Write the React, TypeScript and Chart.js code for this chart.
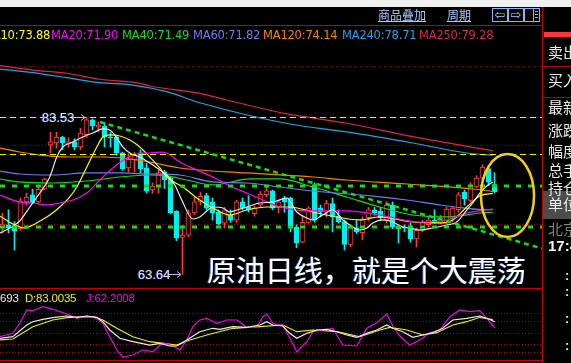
import React, { useEffect, useRef } from 'react';
import { Chart, registerables } from 'chart.js';

Chart.register(...registerables);

// ---------------- data ----------------
const OPEN = [69.49, 69.9, 69.6, 69.4, 72.8, 73.7, 72.8, 74.4, 80.0, 80.25, 81.0, 80.1, 80.4, 79.75, 81.3, 83.2, 82.28, 82.4, 81.0, 81.0, 79.0, 77.1, 78.1, 79.0, 77.1, 74.3, 74.8, 76.6, 75.8, 71.6, 68.3, 68.6, 71.4, 72.8, 73.6, 72.8, 71.5, 70.1, 71.1, 70.5, 72.8, 72.1, 71.3, 72.4, 73.7, 74.2, 72.2, 73.3, 73.3, 69.6, 67.7, 70.2, 74.94, 72.0, 71.5, 72.6, 71.0, 70.3, 67.4, 69.5, 68.9, 70.8, 71.8, 71.6, 70.5, 72.4, 69.6, 69.6, 69.6, 68.1, 69.2, 69.9, 70.5, 70.1, 70.1, 70.9, 71.8, 74.0, 73.0, 74.7, 75.8, 77.0, 75.0];
const HIGH = [71.39, 71.8, 70.3, 73.3, 73.9, 74.4, 74.7, 75.8, 81.6, 81.6, 81.1, 80.9, 80.8, 82.1, 83.53, 83.3, 82.9, 82.8, 81.6, 81.1, 79.1, 78.9, 79.1, 79.4, 77.7, 75.2, 76.8, 76.8, 76.0, 71.7, 69.8, 71.8, 73.4, 74.0, 73.9, 73.3, 71.8, 72.1, 71.8, 73.0, 73.3, 73.6, 72.3, 74.1, 74.7, 74.3, 73.0, 73.5, 73.4, 69.9, 71.0, 72.2, 75.2, 72.4, 73.0, 73.3, 71.8, 70.5, 69.9, 70.5, 70.9, 72.1, 72.1, 72.1, 72.8, 72.8, 69.8, 69.9, 70.1, 69.5, 70.5, 70.9, 71.8, 71.1, 72.1, 72.1, 74.0, 74.3, 75.2, 76.1, 77.5, 77.2, 76.5];
const LOW = [68.86, 68.9, 66.7, 69.2, 72.4, 72.6, 72.6, 74.3, 79.0, 79.6, 79.4, 79.7, 79.4, 79.4, 81.0, 81.9, 81.65, 79.75, 79.75, 78.7, 76.8, 76.6, 76.6, 76.5, 73.9, 73.9, 73.9, 74.5, 71.3, 67.9, 63.64, 68.4, 71.2, 72.4, 71.8, 70.5, 69.9, 69.5, 70.2, 70.2, 71.8, 71.5, 71.0, 72.2, 73.4, 71.8, 71.4, 71.5, 69.0, 67.0, 67.6, 70.1, 70.2, 70.9, 70.9, 69.0, 70.1, 66.7, 67.1, 68.8, 68.0, 70.4, 71.1, 70.5, 70.1, 69.4, 67.6, 69.0, 67.7, 67.1, 69.0, 69.6, 70.1, 70.0, 70.0, 70.3, 71.5, 72.4, 72.8, 74.6, 75.6, 74.9, 73.9];
const CLOSE = [70.0, 69.5, 69.1, 72.9, 73.4, 72.7, 74.4, 75.7, 80.4, 81.0, 80.25, 80.4, 79.8, 81.5, 83.2, 82.4, 82.53, 81.0, 80.9, 79.0, 77.0, 78.2, 78.7, 77.0, 74.2, 74.8, 76.5, 75.6, 71.4, 68.2, 68.6, 71.4, 72.8, 73.5, 72.0, 71.4, 70.0, 71.8, 70.5, 72.8, 72.0, 71.8, 72.0, 73.8, 74.2, 72.0, 72.8, 72.8, 69.6, 67.6, 70.2, 72.0, 70.5, 71.5, 72.6, 70.9, 70.3, 67.4, 69.5, 69.0, 70.6, 71.8, 71.4, 70.8, 72.4, 69.6, 69.4, 69.5, 68.1, 69.2, 70.2, 70.5, 70.15, 70.8, 71.9, 72.0, 73.7, 73.2, 74.8, 75.8, 77.2, 75.3, 74.1];

// moving-average lines: [bar position, price]
const MA5: [number, number][] = [[-0.45, 68.86], [1.22, 69.49], [2.88, 70.38], [4.55, 72.15], [6.22, 73.92], [7.88, 75.95], [9.05, 78.48], [10.05, 79.75], [11.72, 80.38], [13.38, 81.01], [15.05, 81.52], [16.72, 82.03], [17.88, 81.9], [19.05, 80.89], [20.05, 79.75], [21.22, 78.99], [22.88, 78.48], [24.55, 77.72], [26.22, 76.84], [27.38, 76.2], [28.72, 74.94], [29.88, 73.04], [31.72, 70.63], [32.88, 70.89], [34.05, 71.65], [35.05, 72.15], [36.72, 72.03], [37.88, 71.52], [39.05, 71.77], [40.72, 72.15], [42.88, 72.66], [45.05, 72.78], [47.38, 73.29], [49.05, 71.52], [50.72, 70.76], [51.72, 70.51], [53.38, 71.14], [55.05, 71.77], [56.72, 70.51], [57.88, 69.87], [59.55, 69.24], [60.72, 69.49], [61.72, 70.13], [63.38, 70.51], [65.05, 70.25], [66.72, 69.62], [67.88, 69.49], [69.55, 69.24], [71.72, 69.49], [74.05, 69.87], [75.72, 70.25], [77.38, 71.77], [78.38, 72.66], [79.55, 73.92], [80.72, 74.81], [81.72, 75.32]];
const MA10: [number, number][] = [[-0.45, 71.01], [1.72, 70.0], [3.72, 69.49], [5.05, 69.87], [6.22, 70.38], [7.88, 71.14], [9.55, 72.15], [11.22, 73.42], [12.38, 74.68], [14.05, 77.21], [15.72, 79.75], [16.72, 81.01], [17.88, 81.27], [19.55, 81.14], [21.22, 80.63], [22.88, 79.75], [24.55, 78.48], [26.22, 77.09], [27.38, 75.95], [30.05, 74.68], [32.88, 73.04], [35.05, 72.03], [37.88, 71.14], [40.72, 71.77], [44.05, 72.15], [47.88, 72.15], [51.72, 71.52], [55.72, 70.89], [59.55, 70.51], [62.88, 70.89], [68.38, 70.25], [72.88, 70.13], [75.05, 70.51], [77.38, 72.15], [79.55, 73.54], [81.72, 73.88]];
const MA20: [number, number][] = [[-0.45, 73.67], [2.88, 72.78], [5.05, 72.66], [7.38, 72.41], [9.55, 72.66], [11.72, 73.04], [14.05, 73.92], [16.22, 75.57], [18.38, 77.09], [20.72, 78.35], [22.38, 78.86], [24.55, 78.99], [26.22, 79.11], [27.38, 78.99], [29.55, 77.85], [32.38, 76.84], [35.05, 75.95], [37.88, 74.81], [40.72, 73.92], [43.38, 73.04], [46.22, 72.15], [51.72, 71.65], [57.38, 71.65], [62.88, 71.14], [69.55, 70.25], [74.05, 70.51], [77.38, 71.39], [81.72, 71.9]];
const MA40: [number, number][] = [[-0.45, 75.7], [2.88, 75.32], [8.38, 75.19], [14.05, 75.44], [19.55, 75.95], [24.55, 76.2], [27.38, 76.08], [30.72, 75.57], [35.05, 74.94], [41.22, 75.7], [46.22, 75.7], [51.72, 74.68], [57.38, 73.42], [62.88, 72.15], [68.38, 71.14], [74.05, 70.89], [79.55, 71.39], [81.72, 71.49]];
const MA60: [number, number][] = [[-0.45, 76.71], [2.88, 76.33], [8.38, 76.2], [14.05, 76.46], [19.55, 76.46], [24.55, 76.33], [29.55, 76.2], [35.05, 75.32], [40.72, 75.19], [46.22, 74.68], [51.72, 74.18], [57.38, 73.8], [61.72, 73.54], [67.38, 73.04], [72.88, 72.41], [76.72, 72.03], [79.55, 71.84], [81.72, 71.82]];
const MA120: [number, number][] = [[-0.45, 79.62], [2.88, 79.11], [6.22, 78.73], [11.22, 78.48], [16.72, 78.48], [21.22, 78.23], [24.55, 77.85], [29.55, 77.09], [40.72, 76.46], [51.72, 75.95], [57.38, 75.57], [67.38, 75.06], [78.38, 74.43], [81.72, 74.14]];
const MA240: [number, number][] = [[-0.45, 89.62], [5.05, 89.15], [10.72, 88.52], [16.22, 87.89], [21.72, 87.59], [27.38, 86.75], [32.88, 85.35], [47.88, 82.66], [57.38, 81.65], [68.38, 80.25], [77.38, 78.99], [81.72, 78.71]];
const MA250: [number, number][] = [[-0.45, 90.04], [5.05, 89.49], [10.72, 89.08], [16.22, 88.32], [22.88, 87.81], [24.55, 87.47], [32.88, 86.54], [37.38, 85.7], [47.05, 84.0], [57.38, 82.75], [68.38, 81.05], [81.72, 79.28]];

// KDJ lines: [bar position, value]
const K_LINE: [number, number][] = [[-0.45, 35.1], [1.72, 39.2], [4.05, 69.2], [5.05, 77.7], [6.72, 83.8], [8.38, 87.9], [10.72, 92.3], [12.38, 89.0], [14.05, 92.3], [15.72, 89.0], [16.72, 77.7], [17.88, 56.4], [19.55, 35.1], [21.72, 26.4], [24.55, 17.9], [26.22, 22.3], [27.88, 15.4], [29.05, 15.4], [30.72, 30.8], [32.88, 52.0], [35.05, 60.8], [36.22, 58.2], [38.38, 64.9], [40.72, 63.3], [42.88, 69.2], [44.05, 77.7], [45.05, 69.2], [46.72, 66.7], [47.88, 47.9], [49.05, 35.1], [50.72, 47.9], [52.38, 56.4], [54.05, 58.2], [55.72, 52.0], [57.38, 43.6], [59.05, 37.7], [60.72, 47.9], [62.38, 56.4], [64.05, 69.2], [65.05, 60.8], [66.72, 52.0], [68.38, 37.7], [70.05, 43.6], [71.72, 49.5], [73.38, 60.8], [75.05, 82.0], [77.38, 86.4], [79.55, 92.3], [80.72, 86.4], [82.05, 77.7]];
const D_LINE: [number, number][] = [[-0.45, 30.8], [1.72, 33.3], [5.05, 64.9], [8.38, 82.0], [10.72, 87.9], [15.05, 90.5], [16.72, 82.0], [19.05, 60.8], [21.72, 39.2], [24.55, 26.4], [29.05, 17.9], [31.22, 30.8], [34.05, 43.6], [38.38, 60.8], [42.88, 64.9], [46.72, 69.2], [49.05, 52.0], [51.72, 56.4], [55.72, 52.0], [59.55, 39.2], [62.88, 56.4], [64.55, 63.3], [67.38, 56.4], [70.05, 43.6], [72.38, 49.5], [75.05, 69.2], [77.38, 77.7], [79.55, 89.0], [81.72, 83.0]];
const J_LINE: [number, number][] = [[-0.45, 39.2], [1.72, 47.9], [2.88, 73.6], [4.05, 107.7], [5.05, 105.9], [6.72, 116.2], [8.38, 109.5], [10.72, 97.4], [12.38, 86.4], [14.05, 92.3], [15.72, 86.4], [16.72, 73.6], [17.88, 39.2], [19.05, 5.1], [20.05, -13.6], [21.72, -7.7], [23.38, 5.1], [25.05, 0.8], [26.72, 23.8], [28.38, 15.4], [29.55, 5.1], [30.72, 30.8], [31.72, 64.9], [32.88, 82.0], [34.05, 86.4], [35.72, 73.6], [37.38, 82.0], [39.05, 82.0], [40.72, 63.3], [42.38, 63.3], [43.38, 90.5], [44.05, 97.4], [45.05, 73.6], [46.72, 68.0], [47.88, 35.9], [49.05, 0.8], [50.72, 26.4], [51.72, 52.0], [53.38, 56.4], [55.05, 60.8], [56.72, 17.9], [59.05, 15.4], [60.72, 60.8], [62.38, 75.1], [64.05, 97.4], [65.05, 66.7], [66.22, 41.0], [67.88, 17.9], [69.55, 30.8], [71.22, 49.5], [72.88, 56.4], [74.55, 90.5], [76.22, 107.7], [77.88, 103.3], [79.55, 105.9], [80.72, 86.4], [82.05, 62.2]];

const MA_NAMES = ['MA10', 'MA20', 'MA40', 'MA60', 'MA120', 'MA240', 'MA250'];
const MA_VALUES = [73.88, 71.9, 71.49, 71.82, 74.14, 78.71, 79.28];
const KDJ_TEXTS = ['693', 'D:83.0035', 'J:62.2008'];

const PRICE_GRID = [90, 80, 70];
const KDJ_GRID = [100, 80, 50, 20, 0];
const H_YELLOW = [83.53, 78.82];
const H_GREEN = [74.81, 69.58];
const TREND: [number, number][] = [[16.25, 82.91], [89.92, 66.91]];
const ELLIPSE = { cx: 84.17, cy: 73.6, rx: 4.42, ry: 5.25 };
const HIGH_MARK = { index: 14, value: 83.53 };
const LOW_MARK = { index: 30, value: 63.64 };
const NOTE = '原油日线，就是个大震荡';
const PANEL_LABELS = ['卖出', '买入', '最新', '涨跌', '幅度', '总手', '持仓', '单位', '北京'];
const PANEL_TIME = '17:4';

// ---------------- styles / layout ----------------
const RED = '#ff3c3c';
const CYAN = '#00f0f0';
const MA_COLORS = ['#ffff00', '#ff00ff', '#10e010', '#7878f8', '#ff8000', '#20a4e4', '#e0244c'];
const MA5_COLOR = '#ececec';
const LEGEND_LEFT = [-17, 51, 122, 193, 263, 342, 419];
const KDJ_COLORS = ['#ececec', '#f0f000', '#f000f0'];
const KDJ_LEFT = [0, 25, 86];
const PANEL_TOPS = [42, 70, 97, 120, 141, 160, 178, 194, 219];

const X_MIN = -2.5 / 6;
const X_MAX = X_MIN + 542 / 6;
const P_MAX = 80 + 119 / 7.9;
const P_MIN = P_MAX - 334 / 7.9;
const K_MAX = 100 + 287 / 0.39;
const K_MIN = K_MAX - 334 / 0.39;

const decorPlugin = {
  id: 'decor',
  beforeDatasetsDraw(chart: any) {
    const { ctx, scales, chartArea } = chart;
    const ys = scales.y, yk = scales.yk;
    ctx.save();
    ctx.lineWidth = 1;
    ctx.setLineDash([1, 2]);
    ctx.strokeStyle = '#8c0000';
    PRICE_GRID.forEach((v) => {
      const py = Math.round(ys.getPixelForValue(v)) + 0.5;
      ctx.beginPath(); ctx.moveTo(chartArea.left, py); ctx.lineTo(chartArea.right, py); ctx.stroke();
    });
    ctx.strokeStyle = '#b00000';
    KDJ_GRID.forEach((v) => {
      const py = Math.round(yk.getPixelForValue(v)) + 0.5;
      ctx.beginPath(); ctx.moveTo(chartArea.left, py); ctx.lineTo(chartArea.right, py); ctx.stroke();
    });
    ctx.restore();
  },
  afterDatasetsDraw(chart: any) {
    const { ctx, scales, chartArea } = chart;
    const xs = scales.x, ys = scales.y;
    ctx.save();
    ctx.setLineDash([6, 4]);
    ctx.lineWidth = 1;
    ctx.strokeStyle = '#f4f400';
    H_YELLOW.forEach((v) => {
      const py = Math.round(ys.getPixelForValue(v)) + 0.5;
      ctx.beginPath(); ctx.moveTo(chartArea.left, py); ctx.lineTo(chartArea.right, py); ctx.stroke();
    });
    ctx.setLineDash([5, 7]);
    ctx.lineWidth = 3;
    ctx.strokeStyle = '#10e010';
    H_GREEN.forEach((v) => {
      const py = Math.round(ys.getPixelForValue(v));
      ctx.beginPath(); ctx.moveTo(chartArea.left, py); ctx.lineTo(chartArea.right, py); ctx.stroke();
    });
    ctx.setLineDash([5, 4]);
    ctx.lineWidth = 2.5;
    ctx.beginPath();
    ctx.moveTo(xs.getPixelForValue(TREND[0][0]), ys.getPixelForValue(TREND[0][1]));
    ctx.lineTo(xs.getPixelForValue(TREND[1][0]), ys.getPixelForValue(TREND[1][1]));
    ctx.stroke();
    ctx.setLineDash([]);
    ctx.lineWidth = 2.5;
    ctx.strokeStyle = '#f2d010';
    const cx = xs.getPixelForValue(ELLIPSE.cx);
    const cy = ys.getPixelForValue(ELLIPSE.cy);
    const rx = Math.abs(xs.getPixelForValue(ELLIPSE.cx + ELLIPSE.rx) - cx);
    const ry = Math.abs(ys.getPixelForValue(ELLIPSE.cy + ELLIPSE.ry) - cy);
    ctx.beginPath(); ctx.ellipse(cx, cy, rx, ry, 0, 0, Math.PI * 2); ctx.stroke();
    ctx.lineWidth = 1;
    ctx.strokeStyle = '#c0c0e0';
    [HIGH_MARK, LOW_MARK].forEach((m, k) => {
      const tip = Math.round(xs.getPixelForValue(m.index)) - 2;
      const py = Math.round(ys.getPixelForValue(m.value)) + 0.5;
      const start = tip - (k === 0 ? 13 : 12);
      ctx.beginPath();
      ctx.moveTo(start, py); ctx.lineTo(tip, py);
      ctx.moveTo(tip - 4, py - 3); ctx.lineTo(tip, py); ctx.lineTo(tip - 4, py + 3);
      ctx.stroke();
    });
    ctx.restore();
  },
  afterDraw(chart: any) {
    const { ctx } = chart;
    ctx.save();
    ctx.strokeStyle = '#c40000';
    ctx.lineWidth = 1;
    ctx.setLineDash([]);
    [25.5, 288.5, 360.5].forEach((py) => {
      ctx.beginPath(); ctx.moveTo(0, py); ctx.lineTo(542, py); ctx.stroke();
    });
    ctx.beginPath(); ctx.moveTo(542.5, 7); ctx.lineTo(542.5, 363); ctx.stroke();
    ctx.restore();
  },
};

const lineDs = (pts: [number, number][], color: string, axis: string, order: number, smooth: boolean) => ({
  type: 'line' as const,
  data: pts.map(([x, y]) => ({ x, y })),
  borderColor: color,
  borderWidth: 1.2,
  pointRadius: 0,
  cubicInterpolationMode: smooth ? 'monotone' : 'default',
  tension: 0,
  yAxisID: axis,
  order,
});

export default function App() {
  const ref = useRef<HTMLCanvasElement>(null);

  useEffect(() => {
    document.body.style.margin = '0';
    const idx = OPEN.map((_, i) => i);
    const up = OPEN.map((o, i) => CLOSE[i] >= o);
    const chart = new Chart(ref.current as HTMLCanvasElement, {
      type: 'bar',
      data: {
        datasets: [
          {
            type: 'bar',
            data: idx.map((i) => ({ x: i, y: [LOW[i], HIGH[i]] })) as any,
            backgroundColor: up.map((u) => (u ? RED : CYAN)),
            borderWidth: 0,
            barThickness: 1,
            grouped: false,
            yAxisID: 'y',
            order: 6,
          },
          {
            type: 'bar',
            data: idx.map((i) => ({ x: i, y: [Math.min(OPEN[i], CLOSE[i]), Math.max(OPEN[i], CLOSE[i])] })) as any,
            backgroundColor: up.map((u) => (u ? '#000000' : CYAN)),
            borderColor: up.map((u) => (u ? RED : CYAN)),
            borderWidth: 1,
            borderSkipped: false,
            barThickness: 5,
            minBarLength: 1,
            grouped: false,
            yAxisID: 'y',
            order: 5,
          },
          lineDs(MA250, MA_COLORS[6], 'y', 3, true),
          lineDs(MA240, MA_COLORS[5], 'y', 3, true),
          lineDs(MA120, MA_COLORS[4], 'y', 3, true),
          lineDs(MA60, MA_COLORS[3], 'y', 3, true),
          lineDs(MA40, MA_COLORS[2], 'y', 3, true),
          lineDs(MA20, MA_COLORS[1], 'y', 2, true),
          lineDs(MA10, MA_COLORS[0], 'y', 2, true),
          lineDs(MA5, MA5_COLOR, 'y', 1, true),
          lineDs(D_LINE, KDJ_COLORS[1], 'yk', 2, false),
          lineDs(K_LINE, KDJ_COLORS[0], 'yk', 1, false),
          lineDs(J_LINE, KDJ_COLORS[2], 'yk', 1, false),
        ] as any,
      },
      options: {
        animation: false,
        responsive: false,
        devicePixelRatio: 1,
        events: [],
        layout: { padding: { left: 0, right: 29, top: 26, bottom: 3 } },
        plugins: { legend: { display: false }, tooltip: { enabled: false } },
        scales: {
          x: { type: 'linear', min: X_MIN, max: X_MAX, offset: false, display: false },
          y: { type: 'linear', min: P_MIN, max: P_MAX, display: false },
          yk: { type: 'linear', min: K_MIN, max: K_MAX, display: false },
        },
      } as any,
      plugins: [decorPlugin],
    });
    return () => chart.destroy();
  }, []);

  const abs = (s: React.CSSProperties): React.CSSProperties => ({ position: 'absolute', whiteSpace: 'nowrap', ...s });
  const cjk = '"Noto Sans CJK SC", "Noto Sans", sans-serif';

  return (
    <div style={{ position: 'fixed', left: 0, top: 0, width: 571, height: 363, background: '#000', overflow: 'hidden', fontFamily: '"Liberation Sans", Arial, sans-serif' }}>
      <canvas ref={ref} width={571} height={363} style={{ position: 'absolute', left: 0, top: 0, width: 571, height: 363 }} />
      <div style={abs({ left: 0, top: 0, width: 571, height: 7, background: '#f0f0f0' })} />
      <div style={abs({ left: 378, top: 7, fontSize: 12, lineHeight: '15px', color: '#a4cbff', textDecoration: 'underline', fontFamily: cjk })}>商品叠加</div>
      <div style={abs({ left: 447, top: 7, fontSize: 12, lineHeight: '15px', color: '#a4cbff', textDecoration: 'underline', fontFamily: cjk })}>周期</div>
      {['⇦', '⇨'].map((g, i) => (
        <div key={g} style={abs({ left: 492 + i * 16, top: 8, width: 14, height: 12, border: '1px solid #84b8f4', color: '#a4cbff', fontSize: 13, lineHeight: '12px', textAlign: 'center', fontFamily: '"DejaVu Sans", sans-serif' })}>{g}</div>
      ))}
      <div style={abs({ left: 524, top: 8, width: 14, height: 12, border: '1px solid #84b8f4' })}>
        <div style={abs({ left: 8, top: 0, width: 1, height: 12, background: '#84b8f4' })} />
        {[2, 5, 8].map((t) => (
          <div key={t} style={abs({ left: 10, top: t, width: 3, height: 1, background: '#84b8f4' })} />
        ))}
      </div>
      {MA_NAMES.map((n, i) => (
        <div key={n} style={abs({ left: LEGEND_LEFT[i], top: 28, fontSize: 11.5, lineHeight: '14px', color: MA_COLORS[i], fontFamily: '"DejaVu Sans", sans-serif', letterSpacing: -0.2 })}>
          {n}:{MA_VALUES[i].toFixed(2)}
        </div>
      ))}
      <div style={abs({ left: 42, top: 110, fontSize: 13, lineHeight: '15px', color: '#e4e4ee', textShadow: '-1px 0 0 #3050c0' })}>{HIGH_MARK.value.toFixed(2)}</div>
      <div style={abs({ left: 138, top: 267, fontSize: 13, lineHeight: '15px', color: '#e4e4ee', textShadow: '-1px 0 0 #3050c0' })}>{LOW_MARK.value.toFixed(2)}</div>
      <div style={abs({ left: 207, top: 255, fontSize: 29, lineHeight: '29px', color: '#ffffff', fontFamily: cjk, textShadow: '-1px 0 0 #3868d8' })}>{NOTE}</div>
      {KDJ_TEXTS.map((t, i) => (
        <div key={t} style={abs({ left: KDJ_LEFT[i], top: 291, fontSize: 11.5, lineHeight: '14px', color: KDJ_COLORS[i], letterSpacing: -0.2 })}>{t}</div>
      ))}
      <div style={abs({ left: 544, top: 32, width: 27, height: 5, background: '#ff3434' })} />
      <div style={abs({ left: 543, top: 66, width: 28, height: 1, background: '#b00000' })} />
      <div style={abs({ left: 543, top: 97, width: 28, height: 1, background: '#b00000' })} />
      <div style={abs({ left: 543, top: 191, width: 28, height: 28, background: '#4c4c4c' })} />
      {PANEL_LABELS.map((t, i) => (
        <div key={t} style={abs({ left: 548, top: PANEL_TOPS[i], fontSize: 15, lineHeight: '20px', color: i === 8 ? '#808080' : '#ececec', fontFamily: cjk })}>{t}</div>
      ))}
      <div style={abs({ left: 548, top: 237, fontSize: 15, lineHeight: '18px', color: '#f4f4f4', fontWeight: 'bold' })}>{PANEL_TIME}</div>
      {[277, 293, 320, 347].map((c) => (
        <div key={c} style={abs({ left: 565, top: c - 8, fontSize: 13, lineHeight: '14px', color: '#e8e8e8', fontWeight: 'bold' })}>:</div>
      ))}
    </div>
  );
}
